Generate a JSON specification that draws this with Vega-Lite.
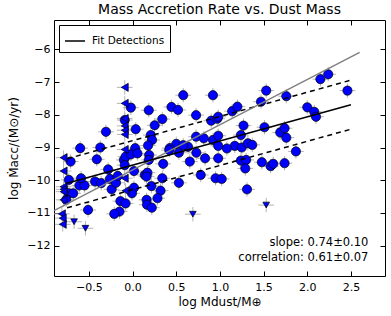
{
  "$schema": "https://vega.github.io/schema/vega-lite/v6.json",
  "width": 331,
  "height": 256,
  "autosize": "none",
  "padding": {"left": 54, "top": 20, "right": 6, "bottom": 40},
  "background": "white",
  "config": {
    "view": {"stroke": "black", "strokeWidth": 1},
    "font": "DejaVu Sans"
  },
  "title": {"text": "Mass Accretion Rate vs. Dust Mass", "font": "DejaVu Sans", "fontSize": 14, "fontWeight": "normal", "color": "black", "anchor": "middle", "offset": 3},
  "datasets": {
    "pts": [
      {"x": -0.305, "y": -8.52, "t": "det", "ex": 0.09, "ey": 0.22},
      {"x": -0.02, "y": -7.78, "t": "det", "ex": 0.09, "ey": 0.22},
      {"x": -0.09, "y": -8.16, "t": "det", "ex": 0.09, "ey": 0.22},
      {"x": 0.036, "y": -8.44, "t": "det", "ex": 0.09, "ey": 0.22},
      {"x": 0.185, "y": -7.86, "t": "det", "ex": 0.09, "ey": 0.22},
      {"x": 0.253, "y": -8.32, "t": "det", "ex": 0.09, "ey": 0.22},
      {"x": 0.208, "y": -8.62, "t": "det", "ex": 0.09, "ey": 0.22},
      {"x": 0.223, "y": -8.77, "t": "det", "ex": 0.09, "ey": 0.22},
      {"x": 0.177, "y": -8.94, "t": "det", "ex": 0.09, "ey": 0.22},
      {"x": 0.34, "y": -8.13, "t": "det", "ex": 0.09, "ey": 0.22},
      {"x": 0.445, "y": -7.76, "t": "det", "ex": 0.09, "ey": 0.22},
      {"x": 0.52, "y": -7.85, "t": "det", "ex": 0.09, "ey": 0.22},
      {"x": 0.58, "y": -7.4, "t": "det", "ex": 0.09, "ey": 0.22},
      {"x": 0.727, "y": -8.01, "t": "det", "ex": 0.09, "ey": 0.22},
      {"x": 0.92, "y": -7.4, "t": "det", "ex": 0.09, "ey": 0.22},
      {"x": 0.9, "y": -8.18, "t": "det", "ex": 0.09, "ey": 0.22},
      {"x": 0.97, "y": -8.12, "t": "det", "ex": 0.09, "ey": 0.22},
      {"x": 0.98, "y": -8.06, "t": "det", "ex": 0.09, "ey": 0.22},
      {"x": 0.727, "y": -8.67, "t": "det", "ex": 0.09, "ey": 0.22},
      {"x": 0.815, "y": -8.72, "t": "det", "ex": 0.09, "ey": 0.22},
      {"x": 0.92, "y": -8.77, "t": "det", "ex": 0.09, "ey": 0.22},
      {"x": 0.98, "y": -8.64, "t": "det", "ex": 0.09, "ey": 0.22},
      {"x": 0.98, "y": -8.95, "t": "det", "ex": 0.09, "ey": 0.22},
      {"x": 0.5, "y": -8.89, "t": "det", "ex": 0.09, "ey": 0.22},
      {"x": 0.635, "y": -8.98, "t": "det", "ex": 0.09, "ey": 0.22},
      {"x": 0.425, "y": -9.02, "t": "det", "ex": 0.09, "ey": 0.22},
      {"x": -0.6, "y": -9.02, "t": "det", "ex": 0.09, "ey": 0.22},
      {"x": -0.37, "y": -9.0, "t": "det", "ex": 0.09, "ey": 0.22},
      {"x": 0.03, "y": -9.02, "t": "det", "ex": 0.09, "ey": 0.22},
      {"x": -0.71, "y": -9.43, "t": "det", "ex": 0.09, "ey": 0.22},
      {"x": -0.41, "y": -9.36, "t": "det", "ex": 0.09, "ey": 0.22},
      {"x": -0.1, "y": -9.38, "t": "det", "ex": 0.09, "ey": 0.22},
      {"x": -0.08, "y": -9.28, "t": "det", "ex": 0.09, "ey": 0.22},
      {"x": -0.02, "y": -9.21, "t": "det", "ex": 0.09, "ey": 0.22},
      {"x": 0.055, "y": -9.18, "t": "det", "ex": 0.09, "ey": 0.22},
      {"x": 0.19, "y": -9.23, "t": "det", "ex": 0.09, "ey": 0.22},
      {"x": 0.185, "y": -9.38, "t": "det", "ex": 0.09, "ey": 0.22},
      {"x": 0.35, "y": -9.5, "t": "det", "ex": 0.09, "ey": 0.22},
      {"x": 0.42, "y": -9.08, "t": "det", "ex": 0.09, "ey": 0.22},
      {"x": 0.53, "y": -9.16, "t": "det", "ex": 0.09, "ey": 0.22},
      {"x": 0.58, "y": -8.93, "t": "det", "ex": 0.09, "ey": 0.22},
      {"x": 0.655, "y": -9.43, "t": "det", "ex": 0.09, "ey": 0.22},
      {"x": 0.73, "y": -9.16, "t": "det", "ex": 0.09, "ey": 0.22},
      {"x": 0.83, "y": -9.33, "t": "det", "ex": 0.09, "ey": 0.22},
      {"x": 0.98, "y": -9.33, "t": "det", "ex": 0.09, "ey": 0.22},
      {"x": -0.73, "y": -9.99, "t": "det", "ex": 0.09, "ey": 0.22},
      {"x": -0.73, "y": -10.4, "t": "det", "ex": 0.09, "ey": 0.22},
      {"x": -0.68, "y": -10.4, "t": "det", "ex": 0.09, "ey": 0.22},
      {"x": -0.76, "y": -10.6, "t": "det", "ex": 0.09, "ey": 0.22},
      {"x": -0.61, "y": -10.16, "t": "det", "ex": 0.09, "ey": 0.22},
      {"x": -0.55, "y": -10.16, "t": "det", "ex": 0.09, "ey": 0.22},
      {"x": -0.59, "y": -9.94, "t": "det", "ex": 0.09, "ey": 0.22},
      {"x": -0.43, "y": -10.04, "t": "det", "ex": 0.09, "ey": 0.22},
      {"x": -0.36, "y": -10.09, "t": "det", "ex": 0.09, "ey": 0.22},
      {"x": -0.28, "y": -9.67, "t": "det", "ex": 0.09, "ey": 0.22},
      {"x": -0.26, "y": -9.96, "t": "det", "ex": 0.09, "ey": 0.22},
      {"x": -0.24, "y": -10.28, "t": "det", "ex": 0.09, "ey": 0.22},
      {"x": -0.19, "y": -10.08, "t": "det", "ex": 0.09, "ey": 0.22},
      {"x": -0.17, "y": -9.87, "t": "det", "ex": 0.09, "ey": 0.22},
      {"x": -0.09, "y": -9.54, "t": "det", "ex": 0.09, "ey": 0.22},
      {"x": 0.016, "y": -9.72, "t": "det", "ex": 0.09, "ey": 0.22},
      {"x": 0.016, "y": -10.23, "t": "det", "ex": 0.09, "ey": 0.22},
      {"x": -0.007, "y": -10.4, "t": "det", "ex": 0.09, "ey": 0.22},
      {"x": 0.14, "y": -9.84, "t": "det", "ex": 0.09, "ey": 0.22},
      {"x": 0.17, "y": -9.77, "t": "det", "ex": 0.09, "ey": 0.22},
      {"x": 0.16, "y": -9.89, "t": "det", "ex": 0.09, "ey": 0.22},
      {"x": 0.215, "y": -10.18, "t": "det", "ex": 0.09, "ey": 0.22},
      {"x": 0.32, "y": -10.32, "t": "det", "ex": 0.09, "ey": 0.22},
      {"x": 0.34, "y": -9.94, "t": "det", "ex": 0.09, "ey": 0.22},
      {"x": 0.285, "y": -10.55, "t": "det", "ex": 0.09, "ey": 0.22},
      {"x": 0.16, "y": -10.6, "t": "det", "ex": 0.09, "ey": 0.22},
      {"x": 0.165, "y": -10.75, "t": "det", "ex": 0.09, "ey": 0.22},
      {"x": 0.22, "y": -10.84, "t": "det", "ex": 0.09, "ey": 0.22},
      {"x": -0.14, "y": -10.64, "t": "det", "ex": 0.09, "ey": 0.22},
      {"x": -0.08, "y": -10.71, "t": "det", "ex": 0.09, "ey": 0.22},
      {"x": -0.15, "y": -10.96, "t": "det", "ex": 0.09, "ey": 0.22},
      {"x": -0.21, "y": -11.03, "t": "det", "ex": 0.09, "ey": 0.22},
      {"x": -0.51, "y": -10.91, "t": "det", "ex": 0.09, "ey": 0.22},
      {"x": 0.53, "y": -10.08, "t": "det", "ex": 0.09, "ey": 0.22},
      {"x": 0.78, "y": -9.84, "t": "det", "ex": 0.09, "ey": 0.22},
      {"x": 0.95, "y": -9.94, "t": "det", "ex": 0.09, "ey": 0.22},
      {"x": 1.02, "y": -9.96, "t": "det", "ex": 0.09, "ey": 0.22},
      {"x": 1.14, "y": -7.89, "t": "det", "ex": 0.09, "ey": 0.22},
      {"x": 1.2, "y": -7.75, "t": "det", "ex": 0.09, "ey": 0.22},
      {"x": 1.53, "y": -7.26, "t": "det", "ex": 0.09, "ey": 0.22},
      {"x": 1.47, "y": -7.6, "t": "det", "ex": 0.09, "ey": 0.22},
      {"x": 1.76, "y": -7.43, "t": "det", "ex": 0.09, "ey": 0.22},
      {"x": 2.15, "y": -6.91, "t": "det", "ex": 0.09, "ey": 0.22},
      {"x": 2.24, "y": -6.76, "t": "det", "ex": 0.09, "ey": 0.22},
      {"x": 2.46, "y": -7.26, "t": "det", "ex": 0.09, "ey": 0.22},
      {"x": 2.0, "y": -7.77, "t": "det", "ex": 0.09, "ey": 0.22},
      {"x": 2.08, "y": -7.91, "t": "det", "ex": 0.09, "ey": 0.22},
      {"x": 2.1, "y": -8.06, "t": "det", "ex": 0.09, "ey": 0.22},
      {"x": 1.27, "y": -8.33, "t": "det", "ex": 0.09, "ey": 0.22},
      {"x": 1.51, "y": -8.38, "t": "det", "ex": 0.09, "ey": 0.22},
      {"x": 1.69, "y": -8.54, "t": "det", "ex": 0.09, "ey": 0.22},
      {"x": 1.74, "y": -8.41, "t": "det", "ex": 0.09, "ey": 0.22},
      {"x": 1.76, "y": -8.7, "t": "det", "ex": 0.09, "ey": 0.22},
      {"x": 1.24, "y": -8.62, "t": "det", "ex": 0.09, "ey": 0.22},
      {"x": 1.17, "y": -8.95, "t": "det", "ex": 0.09, "ey": 0.22},
      {"x": 1.25, "y": -9.0, "t": "det", "ex": 0.09, "ey": 0.22},
      {"x": 1.32, "y": -8.87, "t": "det", "ex": 0.09, "ey": 0.22},
      {"x": 1.37, "y": -8.92, "t": "det", "ex": 0.09, "ey": 0.22},
      {"x": 1.08, "y": -9.03, "t": "det", "ex": 0.09, "ey": 0.22},
      {"x": 1.87, "y": -9.12, "t": "det", "ex": 0.09, "ey": 0.22},
      {"x": 1.24, "y": -9.4, "t": "det", "ex": 0.09, "ey": 0.22},
      {"x": 1.3, "y": -9.38, "t": "det", "ex": 0.09, "ey": 0.22},
      {"x": 1.29, "y": -9.64, "t": "det", "ex": 0.09, "ey": 0.22},
      {"x": 1.48, "y": -9.45, "t": "det", "ex": 0.09, "ey": 0.22},
      {"x": 1.58, "y": -9.57, "t": "det", "ex": 0.09, "ey": 0.22},
      {"x": 1.61, "y": -9.5, "t": "det", "ex": 0.09, "ey": 0.22},
      {"x": 1.74, "y": -9.48, "t": "det", "ex": 0.09, "ey": 0.22},
      {"x": 1.31, "y": -10.28, "t": "det", "ex": 0.09, "ey": 0.22},
      {"x": -0.09, "y": -7.16, "t": "xlim", "ex": 0.09, "ey": 0.22},
      {"x": -0.09, "y": -7.65, "t": "xlim", "ex": 0.09, "ey": 0.22},
      {"x": -0.09, "y": -8.11, "t": "xlim", "ex": 0.09, "ey": 0.22},
      {"x": -0.09, "y": -8.34, "t": "xlim", "ex": 0.09, "ey": 0.22},
      {"x": -0.09, "y": -8.47, "t": "xlim", "ex": 0.09, "ey": 0.22},
      {"x": -0.09, "y": -8.6, "t": "xlim", "ex": 0.09, "ey": 0.22},
      {"x": -0.09, "y": -9.06, "t": "xlim", "ex": 0.09, "ey": 0.22},
      {"x": -0.09, "y": -9.94, "t": "xlim", "ex": 0.09, "ey": 0.22},
      {"x": -0.08, "y": -10.32, "t": "xlim", "ex": 0.09, "ey": 0.22},
      {"x": -0.79, "y": -9.31, "t": "xlim", "ex": 0.09, "ey": 0.22},
      {"x": -0.79, "y": -9.72, "t": "xlim", "ex": 0.09, "ey": 0.22},
      {"x": -0.79, "y": -10.2, "t": "xlim", "ex": 0.09, "ey": 0.22},
      {"x": -0.79, "y": -10.28, "t": "xlim", "ex": 0.09, "ey": 0.22},
      {"x": -0.79, "y": -10.35, "t": "xlim", "ex": 0.09, "ey": 0.22},
      {"x": -0.79, "y": -10.6, "t": "xlim", "ex": 0.09, "ey": 0.22},
      {"x": -0.81, "y": -11.03, "t": "xlim", "ex": 0.09, "ey": 0.22},
      {"x": -0.8, "y": -11.16, "t": "xlim", "ex": 0.09, "ey": 0.22},
      {"x": -0.8, "y": -11.35, "t": "xlim", "ex": 0.09, "ey": 0.22},
      {"x": -0.67, "y": -11.27, "t": "ylim", "ex": 0.09, "ey": 0.22},
      {"x": -0.54, "y": -11.47, "t": "ylim", "ex": 0.09, "ey": 0.22},
      {"x": 0.69, "y": -11.04, "t": "ylim", "ex": 0.09, "ey": 0.22},
      {"x": 1.53, "y": -10.76, "t": "ylim", "ex": 0.09, "ey": 0.22}
    ],
    "lines": [
      {"s": "fit", "x": -0.75, "y": -10.095},
      {"s": "fit", "x": 2.5, "y": -7.69},
      {"s": "up", "x": -0.75, "y": -9.345},
      {"s": "up", "x": 2.5, "y": -6.94},
      {"s": "lo", "x": -0.75, "y": -10.845},
      {"s": "lo", "x": 2.5, "y": -8.44},
      {"s": "all", "x": -0.9, "y": -10.93},
      {"s": "all", "x": 2.6, "y": -6.09}
    ],
    "notes": [
      {"x": 2.7, "y": -11.91, "label": "slope: 0.74±0.10"},
      {"x": 2.7, "y": -12.39, "label": "correlation: 0.61±0.07"}
    ]
  },
  "resolve": {"axis": {"x": "independent", "y": "independent"}},
  "layer": [
    {
      "data": {"name": "pts"},
      "mark": {"type": "errorbar", "color": "#b4b4b4", "thickness": 1},
      "encoding": {
        "x": {"field": "x", "type": "quantitative",
          "scale": {"domain": [-0.9, 2.89], "nice": false, "zero": false},
          "axis": {"orient": "bottom", "values": [-0.5, 0, 0.5, 1, 1.5, 2, 2.5], "format": ".1f", "tickSize": -5, "tickColor": "black", "domain": false, "grid": false, "labelFont": "DejaVu Sans", "labelFontSize": 11, "labelColor": "black", "labelPadding": 10, "title": "log Mdust/M⊕", "titleFont": "DejaVu Sans", "titleFontSize": 12, "titleFontWeight": "normal", "titleColor": "black", "titlePadding": 4}},
        "xError": {"field": "ex"},
        "y": {"field": "y", "type": "quantitative",
          "scale": {"domain": [-12.93, -5.1], "nice": false, "zero": false},
          "axis": {"orient": "left", "values": [-12, -11, -10, -9, -8, -7, -6], "tickSize": -5, "tickColor": "black", "domain": false, "grid": false, "labelFont": "DejaVu Sans", "labelFontSize": 11, "labelColor": "black", "labelPadding": 9, "title": "log Ṁacc/(M⊙/yr)", "titleFont": "DejaVu Sans", "titleFontSize": 12, "titleFontWeight": "normal", "titleColor": "black", "titlePadding": 6}}
      }
    },
    {
      "data": {"name": "pts"},
      "mark": {"type": "errorbar", "color": "#b4b4b4", "thickness": 1},
      "encoding": {
        "x": {"field": "x", "type": "quantitative", "axis": null},
        "y": {"field": "y", "type": "quantitative", "axis": null},
        "yError": {"field": "ey"}
      }
    },
    {
      "data": {"name": "pts"},
      "mark": {"type": "point", "filled": true, "fill": "#0000ff", "stroke": "black", "strokeWidth": 0.7, "opacity": 1},
      "encoding": {
        "x": {"field": "x", "type": "quantitative", "axis": null},
        "y": {"field": "y", "type": "quantitative", "axis": null},
        "shape": {"field": "t", "type": "nominal", "scale": {"domain": ["det", "xlim", "ylim"], "range": ["circle", "triangle-left", "triangle-down"]}, "legend": null},
        "size": {"field": "t", "type": "nominal", "scale": {"domain": ["det", "xlim", "ylim"], "range": [85, 45, 55]}, "legend": null}
      }
    },
    {
      "data": {"name": "lines"},
      "transform": [{"filter": "datum.s === 'up' || datum.s === 'lo'"}],
      "mark": {"type": "line", "color": "black", "strokeWidth": 1.5, "strokeDash": [5, 4]},
      "encoding": {
        "x": {"field": "x", "type": "quantitative", "axis": null},
        "y": {"field": "y", "type": "quantitative", "axis": null},
        "detail": {"field": "s"}
      }
    },
    {
      "data": {"name": "lines"},
      "transform": [{"filter": "datum.s === 'all'"}],
      "mark": {"type": "line", "color": "#808080", "strokeWidth": 1.5},
      "encoding": {
        "x": {"field": "x", "type": "quantitative",
          "axis": {"orient": "top", "values": [-0.5, 0, 0.5, 1, 1.5, 2, 2.5], "tickSize": -5, "tickColor": "black", "domain": false, "grid": false, "labels": false, "title": null}},
        "y": {"field": "y", "type": "quantitative",
          "axis": {"orient": "right", "values": [-12, -11, -10, -9, -8, -7, -6], "tickSize": -5, "tickColor": "black", "domain": false, "grid": false, "labels": false, "title": null}}
      }
    },
    {
      "data": {"name": "lines"},
      "transform": [{"filter": "datum.s === 'fit'"}],
      "mark": {"type": "line", "strokeWidth": 1.5},
      "encoding": {
        "x": {"field": "x", "type": "quantitative", "axis": null},
        "y": {"field": "y", "type": "quantitative", "axis": null},
        "color": {"datum": "Fit Detections", "type": "nominal", "scale": {"domain": ["Fit Detections"], "range": ["black"]},
          "legend": {"orient": "top-left", "offset": 5, "title": null, "strokeColor": "black", "fillColor": "white", "padding": 5, "cornerRadius": 0, "symbolType": "stroke", "symbolSize": 400, "symbolStrokeWidth": 1.5, "labelFont": "DejaVu Sans", "labelFontSize": 10.5, "labelColor": "black", "labelOffset": 6}}
      }
    },
    {
      "data": {"name": "notes"},
      "mark": {"type": "text", "align": "right", "baseline": "middle", "font": "DejaVu Sans", "fontSize": 11.5, "color": "black"},
      "encoding": {
        "x": {"field": "x", "type": "quantitative", "axis": null},
        "y": {"field": "y", "type": "quantitative", "axis": null},
        "text": {"field": "label"}
      }
    }
  ]
}
